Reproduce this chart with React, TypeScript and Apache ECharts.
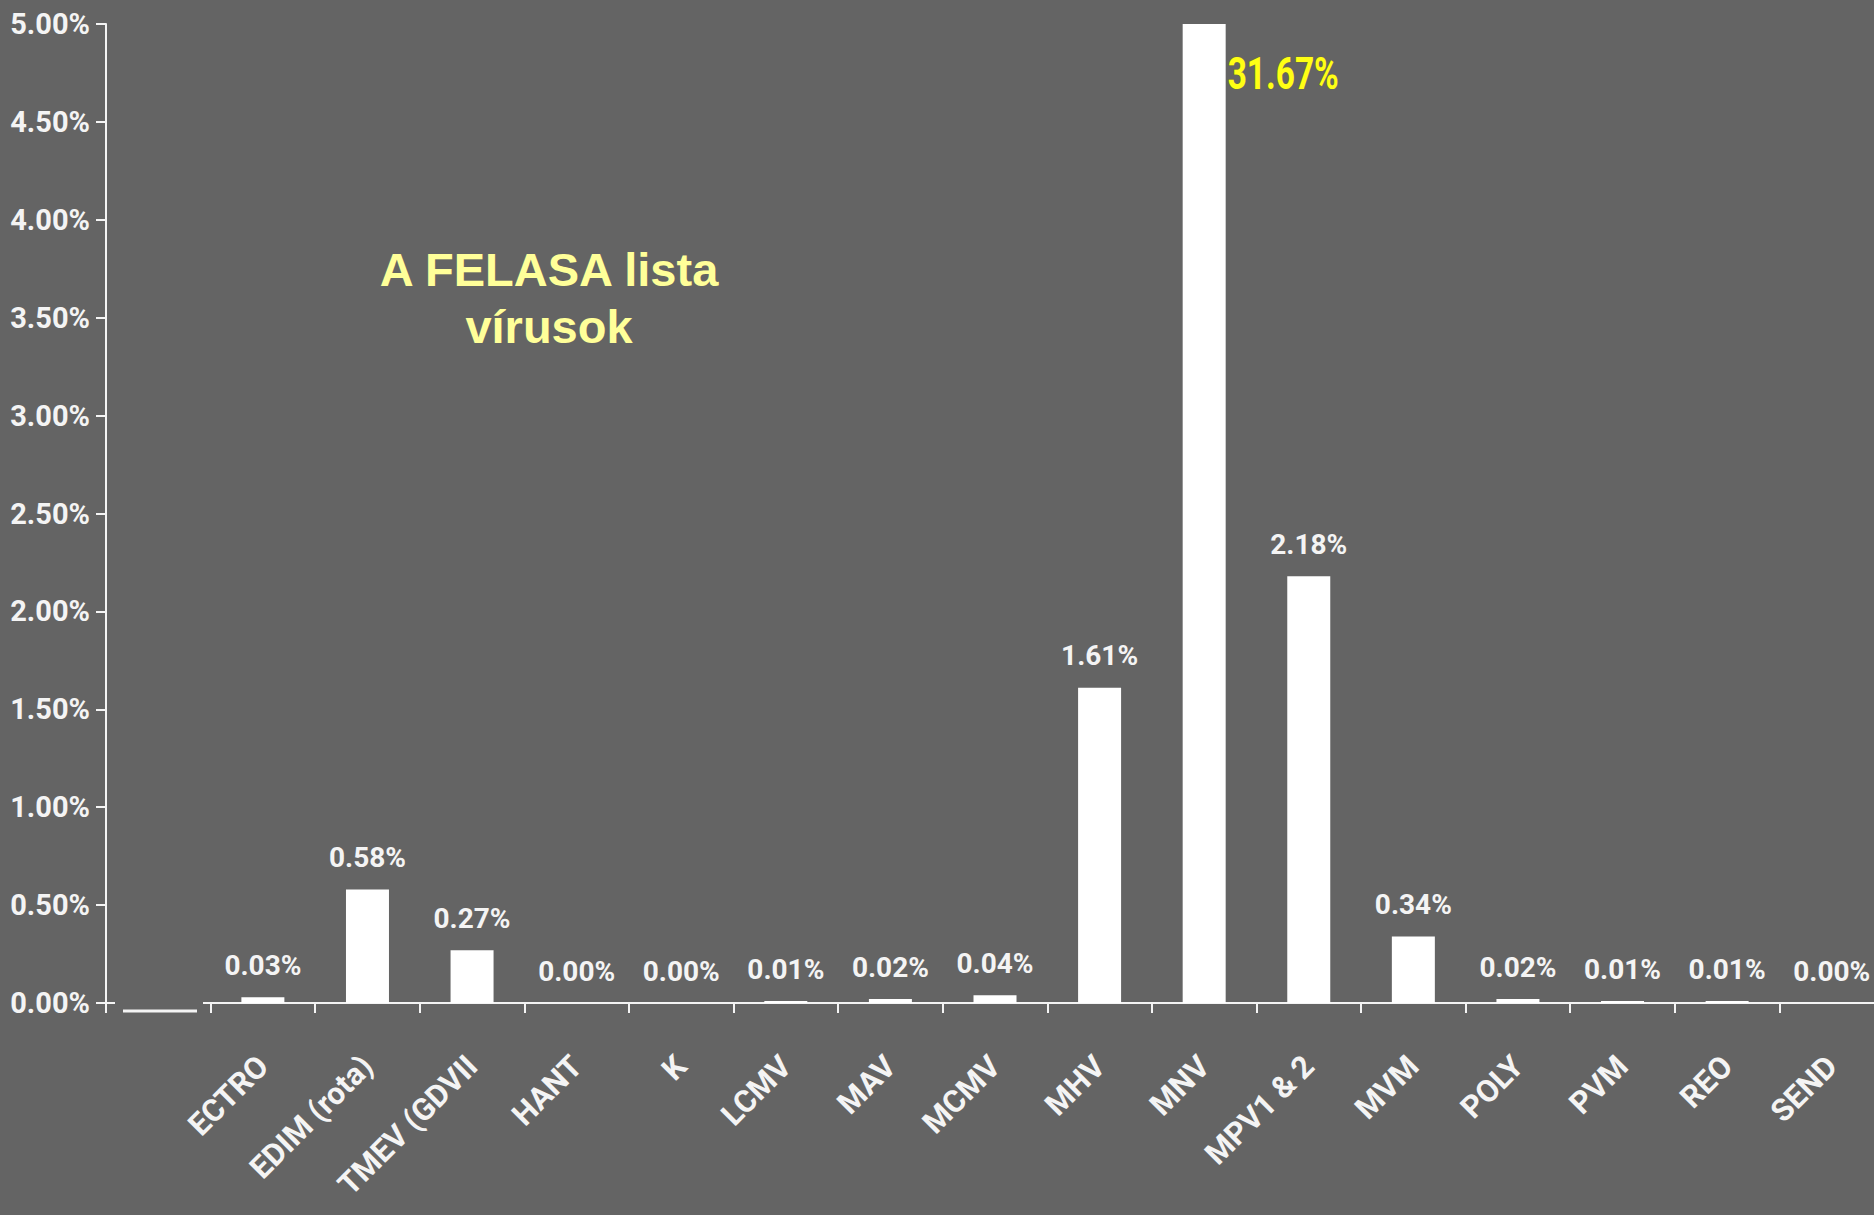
import React, { useEffect, useRef } from 'react';
import * as echarts from 'echarts';

const categories = ['', 'ECTRO', 'EDIM (rota)', 'TMEV (GDVII', 'HANT', 'K', 'LCMV', 'MAV', 'MCMV', 'MHV', 'MNV', 'MPV1 & 2', 'MVM', 'POLY', 'PVM', 'REO', 'SEND'];
const values: (number | null)[] = [null, 0.03, 0.58, 0.27, 0.0, 0.0, 0.01, 0.02, 0.04, 1.61, 31.67, 2.18, 0.34, 0.02, 0.01, 0.01, 0.0];
const highlightCategory = 'MNV';
const yMin = 0;
const yMax = 5;
const yInterval = 0.5;
const titleLines = ['A FELASA lista', 'vírusok'];

const FONT = "Roboto, 'Liberation Sans', sans-serif";
const BAR_W = 43;
const WHITE = '#f4f4f4';

export default function App() {
  const ref = useRef<HTMLDivElement>(null);
  useEffect(() => {
    if (!ref.current) return;
    const chart = echarts.init(ref.current, undefined, { renderer: 'svg' });
    const hiIdx = categories.indexOf(highlightCategory);
    const pct = (v: number) => v.toFixed(2) + '%';
    chart.setOption({
      animation: false,
      backgroundColor: '#646464',
      grid: { left: 106, top: 24, right: -10, bottom: 212, containLabel: false, outerBoundsMode: 'none' },
      xAxis: {
        type: 'category',
        data: categories,
        boundaryGap: true,
        axisLine: { show: false },
        axisTick: { show: true, length: 10, lineStyle: { color: WHITE, width: 2 } },
        axisLabel: {
          rotate: 45,
          interval: 0,
          margin: 58,
          color: WHITE,
          fontSize: 31,
          fontWeight: 'bold',
          fontFamily: FONT,
        },
        splitLine: { show: false },
      },
      yAxis: {
        type: 'value',
        min: yMin,
        max: yMax,
        interval: yInterval,
        axisLine: { show: true, lineStyle: { color: WHITE, width: 2 } },
        axisTick: { show: true, inside: false, length: 10, lineStyle: { color: WHITE, width: 2 } },
        axisLabel: {
          margin: 16,
          color: WHITE,
          fontSize: 29,
          fontWeight: 'bold',
          fontFamily: FONT,
          formatter: (v: number) => pct(v),
        },
        splitLine: { show: false },
      },
      series: [
        {
          type: 'bar',
          data: values.map((v, i) => (i === hiIdx ? { value: v, label: { show: false } } : { value: v })),
          barWidth: BAR_W,
          clip: true,
          itemStyle: { color: '#ffffff' },
          label: {
            show: true,
            position: 'top',
            distance: 18,
            color: WHITE,
            fontSize: 28,
            fontWeight: 'bold',
            fontFamily: FONT,
            formatter: (p: any) => (p.value == null ? '' : pct(Number(p.value))),
          },
        },
      ],
    });
    const top = chart.convertToPixel({ xAxisIndex: 0, yAxisIndex: 0 }, [hiIdx, yMax]) as number[];
    chart.setOption({
      graphic: [
        {
          type: 'text',
          x: 549,
          y: 241,
          style: {
            text: titleLines.join('\n'),
            align: 'center',
            fill: '#ffff99',
            font: "bold 47px 'Liberation Sans', Arial, sans-serif",
            lineHeight: 57,
          },
        },
        {
          type: 'text',
          x: top[0] + BAR_W / 2 + 2,
          y: top[1] + 50,
          scaleX: 0.76,
          style: {
            text: pct(values[hiIdx] as number),
            x: 0,
            y: 0,
            align: 'left',
            verticalAlign: 'middle',
            fill: '#ffff14',
            font: 'bold 44px ' + FONT,
            stroke: '#6f6f3a',
            lineWidth: 1,
          },
        },
        { type: 'line', shape: { x1: 106, y1: 1003, x2: 115, y2: 1003 }, style: { stroke: WHITE, lineWidth: 2 } },
        { type: 'line', shape: { x1: 123, y1: 1011, x2: 197, y2: 1011 }, style: { stroke: WHITE, lineWidth: 3 } },
        { type: 'line', shape: { x1: 203, y1: 1003, x2: 1874, y2: 1003 }, style: { stroke: WHITE, lineWidth: 2 } },
      ],
    });
    return () => chart.dispose();
  }, []);
  return <div ref={ref} style={{ position: 'fixed', left: 0, top: 0, width: 1874, height: 1215 }} />;
}
